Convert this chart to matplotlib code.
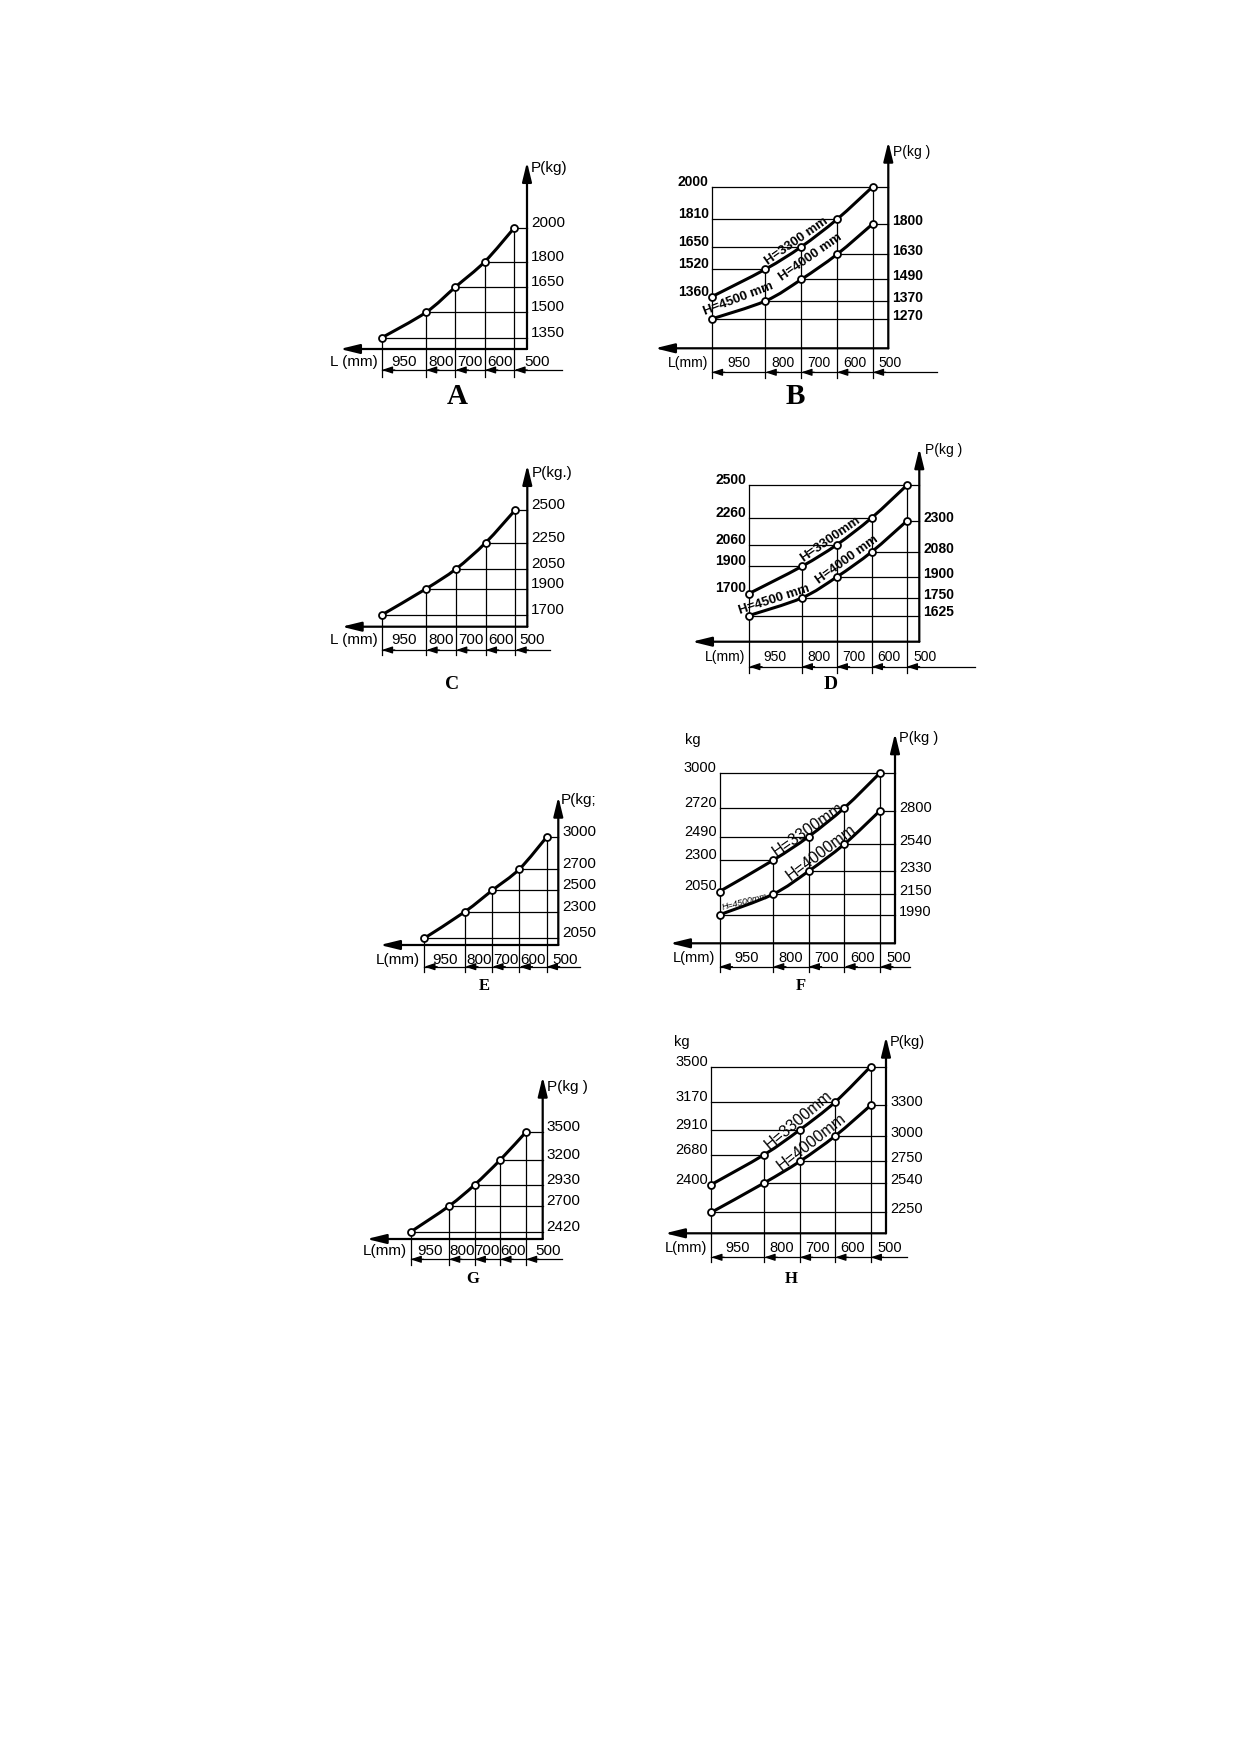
import matplotlib

matplotlib.use("Agg")
import matplotlib.pyplot as plt
from matplotlib.path import Path
from matplotlib.patches import PathPatch

plt.rcParams["font.family"] = ["Liberation Sans", "DejaVu Sans"]

W, H = 1239, 1752

# ---- data ----
L_MM = [950, 800, 700, 600, 500]
L_LABELS = ["950", "800", "700", "600", "500"]

P_A = [1350, 1500, 1650, 1800, 2000]
P_C = [1700, 1900, 2050, 2250, 2500]
P_E = [2050, 2300, 2500, 2700, 3000]
P_G = [2420, 2700, 2930, 3200, 3500]

P_B_3300 = [1360, 1520, 1650, 1810, 2000]
P_B_4000 = [1270, 1370, 1490, 1630, 1800]
P_D_3300 = [1700, 1900, 2060, 2260, 2500]
P_D_4000 = [1625, 1750, 1900, 2080, 2300]
P_F_3300 = [2050, 2300, 2490, 2720, 3000]
P_F_4000 = [1990, 2150, 2330, 2540, 2800]
P_H_3300 = [2400, 2680, 2910, 3170, 3500]
P_H_4000 = [2250, 2540, 2750, 3000, 3300]

# ---- page layout (pixels on the 1239x1752 page) ----
# xcal: (L, px, L, px); ycal: (P, py, P, py)
LAYOUT = {
    "A": dict(xcal=(950, 381.8, 500, 514.3), ycal=(1350, 337.7, 2000, 227.8),
              axis=527, top=162, laxis=349, larrow=340, dim=370, dimr=562, vbot=377,
              laby=362, lab500=537, lmm="L (mm)", ptxt="P(kg)", pt=(531, 168),
              let=(457, 397), let_size=21),
    "C": dict(xcal=(950, 381.8, 500, 515.4), ycal=(1700, 614.9, 2500, 509.8),
              axis=527.3, top=465, laxis=626.7, larrow=341.7, dim=650, dimr=550, vbot=655,
              laby=640, lab500=532, lmm="L (mm)", ptxt="P(kg.)", pt=(532, 473),
              let=(451.6, 684.6), let_size=14),
    "E": dict(xcal=(950, 424.2, 500, 546.7), ycal=(2050, 938.3, 3000, 837),
              axis=558.3, top=796.7, laxis=945, larrow=380, dim=966.7, dimr=580, vbot=971.7,
              laby=960, lab500=565, lmm="L(mm)", ptxt="P(kg;", pt=(561, 800),
              let=(484, 986), let_size=12),
    "G": dict(xcal=(950, 410.5, 500, 525.9), ycal=(2420, 1232, 3500, 1132.1),
              axis=542.7, top=1076.7, laxis=1239, larrow=366.7, dim=1259.3, dimr=561.7,
              vbot=1265, laby=1250.7, lab500=548.3, lmm="L(mm)", ptxt="P(kg )",
              pt=(547, 1086.7), let=(472.8, 1279), let_size=12),
    "B": dict(xcal=(950, 711.8, 500, 872.8), ycal=(1360, 296.7, 2000, 186.6),
              ycal_lo=(1270, 318.9, 1800, 223.8),
              axis=888.3, top=141.7, laxis=348.3, larrow=655, dim=372.3, dimr=937, vbot=378,
              laby=363.3, lab500=890, lmm="L(mm)", ptxt="P(kg )", pt=(893, 151.7),
              let=(795, 396), let_size=21, bold=True,
              notes=[("H=3300 mm", 797, 241.5, 35, 9.5, "normal"),
                     ("H=4500 mm", 738, 299, 21, 9.5, "normal"),
                     ("H=4000 mm", 811, 257.5, 35, 9.5, "normal")]),
    "D": dict(xcal=(950, 749.1, 500, 906.7), ycal=(1700, 593.5, 2500, 485.4),
              ycal_lo=(1625, 615.5, 2300, 521.1),
              axis=919.3, top=448.3, laxis=641.7, larrow=692, dim=666.7, dimr=975, vbot=673,
              laby=656.7, lab500=925, lmm="L(mm)", ptxt="P(kg )", pt=(925, 450),
              let=(830.7, 684.6), let_size=14, bold=True,
              notes=[("H=3300mm", 830, 539, 35, 9.5, "normal"),
                     ("H=4500 mm", 774, 599.5, 18, 9.5, "normal"),
                     ("H=4000 mm", 847, 560, 36, 9.5, "normal")]),
    "F": dict(xcal=(950, 719.5, 500, 880), ycal=(2050, 891.5, 3000, 772.9),
              ycal_lo=(1990, 914.8, 2800, 810.7),
              axis=895, top=733.3, laxis=943.3, larrow=670, dim=966.7, dimr=910, vbot=971.7,
              laby=958.3, lab500=898.3, lmm="L(mm)", ptxt="P(kg )", pt=(899, 738.3),
              let=(800.6, 985.7), let_size=12, kg=(693.3, 740),
              notes=[("H=3300mm", 808, 830, 35, 11.5, "normal"),
                     ("H=4000mm", 821, 852, 37, 11.5, "normal"),
                     ("H=4500mm", 745, 901.7, 14, 6.5, "italic")]),
    "H": dict(xcal=(950, 711.2, 500, 870.6), ycal=(2400, 1184.6, 3500, 1066.6),
              ycal_lo=(2250, 1212.4, 3300, 1105.4),
              axis=886, top=1036.7, laxis=1233.3, larrow=665, dim=1257.3, dimr=906.7,
              vbot=1261.7, laby=1248.3, lab500=889.3, lmm="L(mm)", ptxt="P(kg)",
              pt=(890, 1041.7), let=(791.7, 1279), let_size=12, kg=(681.7, 1041.7),
              notes=[("H=3300mm", 798.3, 1120, 40, 11.5, "normal"),
                     ("H=4000mm", 811.7, 1141.7, 38, 11.5, "normal")]),
}

fig = plt.figure(figsize=(W / 100, H / 100), dpi=100)
fig.patch.set_facecolor("white")


def lin(va, pa, vb, pb):
    """px -> value mapping through two reference points."""
    s = (pb - pa) / (vb - va)
    return lambda p: va + (p - pa) / s


def new_axes(xcal, ycal):
    fx, fy = lin(*xcal), lin(*ycal)
    ax = fig.add_axes([0, 0, 1, 1])
    ax.set_axis_off()
    ax.patch.set_visible(False)
    ax.set_xlim(fx(0), fx(W))
    ax.set_ylim(fy(H), fy(0))
    return ax, fx, fy


def smooth_path(xs, ys):
    """Catmull-Rom through the points, as cubic bezier segments."""
    pts = list(zip(xs, ys))
    verts, codes = [pts[0]], [Path.MOVETO]
    n = len(pts)
    for i in range(n - 1):
        p0 = pts[max(i - 1, 0)]
        p1, p2 = pts[i], pts[i + 1]
        p3 = pts[min(i + 2, n - 1)]
        c1 = (p1[0] + (p2[0] - p0[0]) / 6, p1[1] + (p2[1] - p0[1]) / 6)
        c2 = (p2[0] - (p3[0] - p1[0]) / 6, p2[1] - (p3[1] - p1[1]) / 6)
        verts += [c1, c2, p2]
        codes += [Path.CURVE4] * 3
    return Path(verts, codes)


def curve(ax, ps):
    ax.add_patch(PathPatch(smooth_path(L_MM, ps), fill=False, lw=2.2, ec="black", zorder=3))
    ax.plot(L_MM, ps, "o", ms=5, mfc="white", mec="black", mew=1.3, zorder=4)


def arrow(ax, tip, base, scale=13, lw=1.6, hl=0.9, hw=0.22):
    ax.annotate("", xy=tip, xytext=base,
                arrowprops=dict(arrowstyle=f"-|>,head_length={hl},head_width={hw}",
                                mutation_scale=scale, lw=lw, color="black",
                                shrinkA=0, shrinkB=0))


def hline(ax, x1, x2, y):
    ax.plot([x1, x2], [y, y], color="black", lw=0.9, zorder=2)


def vline(ax, x, y1, y2):
    ax.plot([x, x], [y1, y2], color="black", lw=0.9, zorder=2)


def frame(ax, fx, fy, name, fs):
    lay = LAYOUT[name]
    xa, yl = fx(lay["axis"]), fy(lay["laxis"])
    arrow(ax, (xa, fy(lay["top"])), (xa, yl))
    arrow(ax, (fx(lay["larrow"]), yl), (xa, yl))
    yd = fy(lay["dim"])
    ax.plot([L_MM[0], fx(lay["dimr"])], [yd, yd], color="black", lw=0.9)
    for L in L_MM:
        ax.annotate("", xy=(L, yd), xytext=(13, 0), textcoords="offset pixels",
                    arrowprops=dict(arrowstyle="-|>,head_length=0.9,head_width=0.3",
                                    mutation_scale=7, lw=0.9, color="black",
                                    shrinkA=0, shrinkB=0))
    yt = fy(lay["laby"])
    mids = [(a + b) / 2 for a, b in zip(L_MM[:-1], L_MM[1:])] + [fx(lay["lab500"])]
    for x, t in zip(mids, L_LABELS):
        ax.text(x, yt, t, ha="center", va="center", fontsize=fs)
    ax.annotate(lay["lmm"], xy=(L_MM[0], yt), xytext=(-4, 0), textcoords="offset pixels",
                ha="right", va="center", fontsize=fs)
    ax.text(fx(lay["pt"][0]), fy(lay["pt"][1]), lay["ptxt"], ha="left", va="center",
            fontsize=fs)
    ax.text(fx(lay["let"][0]), fy(lay["let"][1]), name,
            ha="center", va="center", fontsize=lay["let_size"],
            family=["Liberation Serif", "DejaVu Serif"], fontweight="bold")
    if "kg" in lay:
        ax.text(fx(lay["kg"][0]), fy(lay["kg"][1]), "kg", ha="center", va="center",
                fontsize=fs)


def single_panel(name, ps):
    lay = LAYOUT[name]
    fs = 11
    ax, fx, fy = new_axes(lay["xcal"], lay["ycal"])
    xa = fx(lay["axis"])
    yb = fy(lay["vbot"])
    for L, P in zip(L_MM, ps):
        vline(ax, L, P, yb)
        hline(ax, L, xa, P)
        ax.annotate(str(P), xy=(xa, P), xytext=(4, 5), textcoords="offset pixels",
                    ha="left", va="center", fontsize=fs)
    curve(ax, ps)
    frame(ax, fx, fy, name, fs)


def double_panel(name, p_up, p_lo):
    lay = LAYOUT[name]
    ax, fx, fy = new_axes(lay["xcal"], lay["ycal"])
    ax2, _, fy2 = new_axes(lay["xcal"], lay["ycal_lo"])
    fw = "bold" if lay.get("bold") else "normal"
    fs = 10 if lay.get("bold") else 10.5
    xa = fx(lay["axis"])
    yb = fy(lay["vbot"])
    # left frame line and top line
    vline(ax, L_MM[0], p_up[-1], yb)
    hline(ax, L_MM[0], xa, p_up[-1])
    for L, P in zip(L_MM[1:], p_up[1:]):
        vline(ax, L, P, yb)
    for L, P in zip(L_MM[1:-1], p_up[1:-1]):
        hline(ax, L_MM[0], L, P)
    for P in p_up:
        ax.annotate(str(P), xy=(L_MM[0], P), xytext=(-3, 5), textcoords="offset pixels",
                    ha="right", va="center", fontsize=fs, fontweight=fw)
    for L, P in zip(L_MM, p_lo):
        hline(ax2, L, xa, P)
        ax2.annotate(str(P), xy=(xa, P), xytext=(4, 3), textcoords="offset pixels",
                     ha="left", va="center", fontsize=fs, fontweight=fw)
    curve(ax, p_up)
    curve(ax2, p_lo)
    for text, px, py, rot, size, style in lay["notes"]:
        ax.text(fx(px), fy(py), text, rotation=rot, rotation_mode="anchor",
                ha="center", va="center", fontsize=size, fontstyle=style,
                fontweight=fw)
    frame(ax, fx, fy, name, fs)


single_panel("A", P_A)
single_panel("C", P_C)
single_panel("E", P_E)
single_panel("G", P_G)
double_panel("B", P_B_3300, P_B_4000)
double_panel("D", P_D_3300, P_D_4000)
double_panel("F", P_F_3300, P_F_4000)
double_panel("H", P_H_3300, P_H_4000)

fig.savefig("out.png", dpi=100, facecolor="white")
